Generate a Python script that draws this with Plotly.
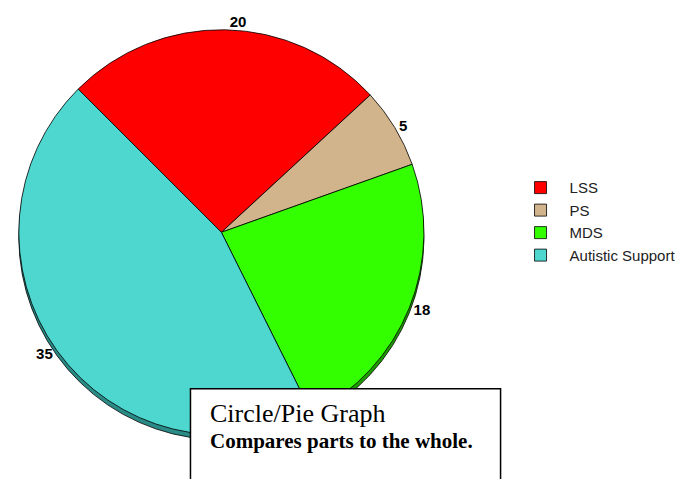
import plotly.graph_objects as go

categories = ["LSS", "PS", "MDS", "Autistic Support"]
values = [20, 5, 18, 35]
colors = ["#ff0000", "#d2b48c", "#33ff00", "#4dd7cf"]
shadow_colors = ["#a00000", "#8c7a5a", "#1f9900", "#2a8a86"]

W, H = 686, 479
OX, OY = 8, 8  # page body margin offset

def px(x):
    return (x - OX) / W

def py(y):
    return (H - (y - OY)) / H

cx, cy, r = 220, 228, 206
off = 5

def dom(cx, cy, r):
    return dict(x=[px(cx - r), px(cx + r)], y=[py(cy + r), py(cy - r)])

fig = go.Figure()
fig.add_trace(go.Pie(
    labels=categories, values=values, sort=False, direction="clockwise",
    rotation=-45, marker=dict(colors=shadow_colors, line=dict(color="#000000", width=0.8)),
    textinfo="none", showlegend=False, hoverinfo="skip",
    domain=dom(cx, cy + off, r),
))
fig.add_trace(go.Pie(
    labels=categories, values=values, sort=False, direction="clockwise",
    rotation=-45, marker=dict(colors=colors, line=dict(color="#000000", width=0.8)),
    textinfo="value", textposition="outside",
    outsidetextfont=dict(family="Liberation Sans", size=15, color="#000000", weight="bold"),
    domain=dom(cx, cy, r),
))

fig.add_shape(type="rect", xref="paper", yref="paper",
              x0=px(189), x1=px(500), y0=-0.05, y1=py(387),
              fillcolor="#ffffff", line=dict(color="#000000", width=1.5), layer="above")
fig.add_annotation(xref="paper", yref="paper", x=px(207), y=py(412),
                   xanchor="left", yanchor="middle", showarrow=False,
                   text="Circle/Pie Graph",
                   font=dict(family="Liberation Serif", size=26, color="#000000"))
fig.add_annotation(xref="paper", yref="paper", x=px(207), y=py(440),
                   xanchor="left", yanchor="middle", showarrow=False,
                   text="<b>Compares parts to the whole.</b>",
                   font=dict(family="Liberation Serif", size=21, color="#000000"))

fig.update_layout(
    width=W, height=H, margin=dict(l=0, r=0, t=0, b=0),
    paper_bgcolor="#ffffff", plot_bgcolor="#ffffff",
    legend=dict(x=px(511), y=py(166), xanchor="left", yanchor="top",
                font=dict(family="Liberation Sans", size=15, color="#222222"),
                bgcolor="rgba(0,0,0,0)", itemclick=False, itemwidth=48,
                tracegroupgap=0),
)
fig.write_html("out.html")
